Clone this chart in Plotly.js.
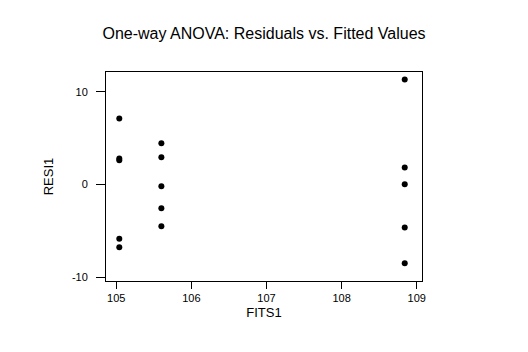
<!DOCTYPE html>
<html>
<head>
<meta charset="utf-8">
<script src="https://cdn.plot.ly/plotly-3.0.1.min.js"></script>
<style>html,body{margin:0;padding:0;background:#fff;}#chart{width:528px;height:352px;}</style>
</head>
<body>
<div id="chart"></div>
<script>
const fits = [105.04, 105.04, 105.04, 105.04, 105.04,
              105.6, 105.6, 105.6, 105.6, 105.6,
              108.84, 108.84, 108.84, 108.84, 108.84];
const resid = [7.11, 2.8, 2.6, -5.86, -6.76,
               4.45, 2.94, -0.18, -2.55, -4.5,
               11.3, 1.83, 0.03, -4.63, -8.48];
const xTicks = [105, 106, 107, 108, 109];
const yTicks = [-10, 0, 10];

const font = {family: 'Liberation Sans, Arial, sans-serif', color: '#000'};
Plotly.newPlot('chart', [{
  x: fits, y: resid, type: 'scatter', mode: 'markers',
  marker: {color: '#000', size: 6, symbol: 'circle'},
  hoverinfo: 'none'
}], {
  width: 528, height: 352,
  margin: {l: 106, r: 106, t: 72, b: 71},
  paper_bgcolor: '#fff', plot_bgcolor: '#fff',
  showlegend: false,
  font: Object.assign({size: 11}, font),
  title: {text: 'One-way ANOVA: Residuals vs. Fitted Values', x: 0.5, xanchor: 'center', y: 0.905, yanchor: 'middle', font: Object.assign({size: 16}, font)},
  xaxis: {
    range: [104.863, 109.07], tickvals: xTicks, ticktext: xTicks.map(String),
    showgrid: false, zeroline: false, showline: true, mirror: true, linecolor: '#000', linewidth: 1,
    ticks: 'outside', ticklen: 7, tickcolor: '#000', tickwidth: 1,
    tickfont: Object.assign({size: 11}, font),
    title: {text: 'FITS1', standoff: 4, font: Object.assign({size: 13}, font)}
  },
  yaxis: {
    range: [-10.4, 12.12], tickvals: yTicks, ticktext: yTicks.map(String),
    showgrid: false, zeroline: false, showline: true, mirror: true, linecolor: '#000', linewidth: 1,
    ticks: 'outside', ticklen: 9, tickcolor: '#000', tickwidth: 1, ticklabelstandoff: 6,
    tickfont: Object.assign({size: 11}, font),
    title: {text: 'RESI1', standoff: 15, font: Object.assign({size: 13}, font)}
  }
}, {staticPlot: true, displayModeBar: false});
</script>
</body>
</html>
